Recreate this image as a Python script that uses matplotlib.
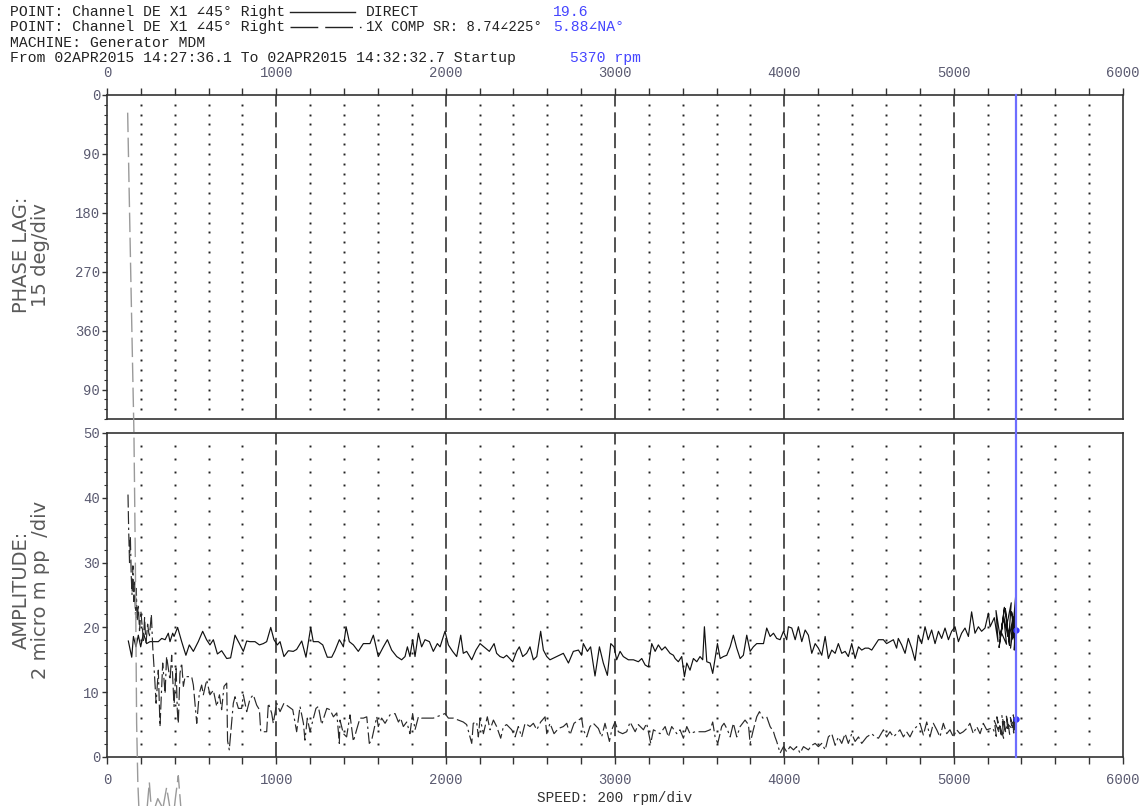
import numpy as np
import matplotlib.pyplot as plt
from matplotlib.lines import Line2D
from matplotlib.transforms import blended_transform_factory

# ---------------- data ----------------
# DIRECT amplitude (micro m pp) vs speed (rpm)
direct_rpm = [126, 146, 156, 171, 185, 199, 215, 234, 254, 274, 303, 323, 343, 362, 372,
              388, 396, 417, 441, 466, 486, 510, 539, 565, 588, 608, 628, 652, 677, 707,
              730, 756, 782, 805, 825, 844, 874, 900, 923, 943, 967, 986, 1006, 1022, 1045,
              1071, 1100, 1120, 1150, 1175, 1203, 1218, 1248, 1274, 1301, 1327, 1346, 1372, 1386, 1396,
              1412, 1431, 1455, 1484, 1514, 1553, 1573, 1602, 1632, 1656, 1681, 1711, 1740, 1760, 1774,
              1789, 1805, 1819, 1839, 1858, 1878, 1904, 1927, 1951, 1967, 1996, 2016, 2041, 2065, 2089,
              2104, 2124, 2154, 2179, 2203, 2226, 2258, 2286, 2301, 2321, 2341, 2360, 2396, 2419, 2435,
              2455, 2478, 2498, 2518, 2538, 2561, 2577, 2597, 2616, 2656, 2695, 2725, 2754, 2784, 2803,
              2813, 2837, 2856, 2882, 2908, 2931, 2955, 2975, 2994, 3010, 3030, 3049, 3079, 3109, 3138,
              3158, 3178, 3197, 3217, 3237, 3256, 3276, 3296, 3325, 3345, 3355, 3374, 3394, 3410, 3424,
              3443, 3463, 3483, 3502, 3518, 3528, 3542, 3562, 3577, 3591, 3605, 3621, 3640, 3660, 3680,
              3699, 3719, 3739, 3758, 3778, 3798, 3817, 3837, 3857, 3877, 3896, 3916, 3936, 3955, 3975,
              3995, 4014, 4024, 4044, 4064, 4083, 4103, 4123, 4142, 4162, 4182, 4201, 4221, 4241, 4260,
              4280, 4300, 4319, 4339, 4359, 4378, 4398, 4418, 4438, 4457, 4477, 4497, 4516, 4536, 4556,
              4585, 4604, 4624, 4644, 4663, 4673, 4693, 4713, 4732, 4752, 4772, 4791, 4811, 4831, 4850,
              4870, 4890, 4910, 4929, 4949, 4969, 4988, 5008, 5028, 5047, 5067, 5087, 5106, 5126, 5146,
              5165, 5185, 5205, 5215, 5240, 5262, 5250, 5275, 5290, 5268, 5300, 5282, 5312, 5295, 5320,
              5305, 5330, 5315, 5340, 5325, 5348, 5336, 5355, 5342, 5360, 5350, 5364, 5345, 5366, 5358,
              5368, 5352, 5370, 5362, 5370]
direct_amp = [17.9, 15.4, 18.6, 17.0, 18.8, 17.0, 19.1, 17.5, 17.8, 17.8, 17.8, 18.3, 18.1, 19.1, 17.8,
              19.1, 18.6, 20.0, 17.8, 15.7, 17.3, 16.3, 17.8, 19.4, 18.1, 17.3, 18.1, 15.9, 16.4, 15.2,
              15.3, 18.8, 17.5, 16.3, 17.9, 17.8, 17.8, 17.3, 17.5, 17.8, 20.0, 18.1, 17.3, 17.8, 15.5,
              16.4, 16.3, 16.6, 17.9, 15.4, 20.0, 17.8, 17.8, 17.3, 15.4, 15.4, 16.4, 18.1, 17.5, 17.0,
              20.1, 17.8, 17.3, 16.3, 17.5, 17.5, 18.8, 15.5, 17.0, 18.1, 16.5, 15.5, 15.0, 15.5, 17.0,
              15.5, 18.1, 15.5, 19.1, 17.0, 18.1, 17.8, 16.3, 17.5, 17.0, 19.4, 17.3, 16.3, 15.5, 18.8,
              16.0, 16.3, 15.0, 16.5, 17.5, 17.0, 16.3, 17.5, 16.0, 15.5, 15.3, 15.7, 14.7, 16.3, 17.0,
              15.5, 16.0, 17.0, 15.0, 15.5, 19.4, 16.5, 15.5, 15.0, 15.5, 16.0, 14.5, 16.3, 16.5, 15.7,
              17.5, 16.3, 17.0, 12.5, 17.0, 14.5, 12.6, 17.5, 17.0, 15.0, 16.3, 15.5, 15.0, 15.0, 14.7,
              15.2, 14.2, 13.9, 17.5, 16.3, 17.3, 16.5, 17.0, 16.0, 15.7, 15.2, 14.7, 15.5, 12.4, 14.5,
              13.4, 15.2, 14.7, 15.5, 15.0, 20.1, 14.7, 14.5, 12.9, 15.2, 17.5, 15.2, 15.5, 15.7, 17.0,
              18.8, 16.8, 15.2, 15.7, 18.8, 16.3, 17.0, 17.5, 17.5, 17.5, 19.9, 18.6, 19.1, 18.3, 18.1,
              19.4, 18.1, 20.1, 19.9, 18.1, 20.1, 17.8, 19.6, 18.8, 16.0, 17.5, 16.8, 15.7, 18.6, 15.2,
              16.5, 16.0, 17.5, 16.0, 16.3, 15.5, 17.5, 15.2, 17.0, 16.5, 16.8, 16.8, 16.5, 17.3, 18.1,
              18.1, 17.5, 17.8, 18.1, 16.8, 18.3, 17.3, 16.0, 18.3, 16.8, 14.9, 18.8, 17.5, 20.1, 18.1,
              19.6, 17.5, 19.4, 18.3, 19.9, 18.1, 19.4, 20.1, 17.8, 19.1, 19.9, 18.6, 22.4, 19.1, 20.1,
              19.4, 19.9, 22.2, 20.1, 21.5, 17.8, 22.6, 18.4, 21.0, 16.9, 23.1, 19.2, 17.4, 21.8, 18.6,
              22.9, 17.2, 20.5, 23.8, 18.1, 21.2, 16.8, 20.7, 22.4, 17.9, 21.6, 19.0, 18.2, 24.8, 16.5,
              21.0, 20.1, 17.0, 22.0, 19.6]

# 1X COMP amplitude (micro m pp) vs speed (rpm)
comp_rpm = [124, 128, 133, 138, 143, 148, 153, 158, 163, 168, 173, 178, 185, 192, 200,
            208, 215, 222, 230, 240, 250, 262, 270, 280, 290, 303, 313, 329, 343, 352,
            372, 382, 396, 408, 415, 421, 431, 441, 451, 461, 500, 510, 530, 545, 559,
            569, 589, 608, 628, 648, 664, 677, 691, 707, 712, 722, 735, 746, 756, 776,
            795, 805, 825, 845, 864, 884, 900, 908, 923, 943, 953, 972, 982, 1002, 1022,
            1045, 1071, 1097, 1120, 1140, 1160, 1169, 1183, 1199, 1219, 1234, 1248, 1268, 1282, 1298,
            1317, 1337, 1357, 1372, 1376, 1396, 1415, 1435, 1455, 1474, 1494, 1514, 1534, 1549, 1563,
            1593, 1602, 1622, 1642, 1671, 1701, 1721, 1734, 1750, 1770, 1789, 1805, 1819, 1839, 1858,
            1888, 1927, 1996, 2016, 2045, 2075, 2104, 2124, 2154, 2163, 2183, 2193, 2203, 2223, 2246,
            2262, 2282, 2301, 2325, 2341, 2360, 2390, 2410, 2429, 2449, 2469, 2498, 2518, 2538, 2561,
            2587, 2597, 2616, 2640, 2666, 2695, 2715, 2734, 2758, 2784, 2803, 2813, 2833, 2852, 2872,
            2902, 2921, 2941, 2967, 2981, 3000, 3020, 3045, 3069, 3089, 3119, 3138, 3168, 3187, 3211,
            3227, 3247, 3266, 3296, 3315, 3335, 3365, 3384, 3404, 3424, 3443, 3473, 3502, 3532, 3562,
            3577, 3591, 3607, 3630, 3644, 3664, 3680, 3699, 3719, 3739, 3768, 3788, 3798, 3817, 3837,
            3853, 3873, 3896, 3916, 3936, 3945, 3955, 3975, 3995, 4014, 4034, 4054, 4073, 4093, 4113,
            4142, 4162, 4182, 4201, 4221, 4241, 4260, 4280, 4300, 4319, 4339, 4359, 4378, 4398, 4418,
            4438, 4457, 4487, 4516, 4536, 4556, 4585, 4604, 4624, 4644, 4663, 4683, 4703, 4722, 4742,
            4762, 4782, 4801, 4821, 4841, 4860, 4880, 4900, 4919, 4939, 4959, 4978, 4998, 5018, 5037,
            5057, 5077, 5096, 5116, 5136, 5156, 5175, 5195, 5230, 5252, 5240, 5268, 5255, 5282, 5270,
            5295, 5285, 5308, 5298, 5320, 5310, 5332, 5322, 5345, 5335, 5355, 5348, 5362, 5352, 5366,
            5358, 5370, 5362, 5370]
comp_amp = [40.5, 35.0, 30.0, 34.0, 28.0, 25.0, 29.5, 24.0, 27.0, 22.0, 26.0, 21.0, 23.5, 19.5, 22.5,
            20.0, 18.0, 21.5, 17.5, 20.5, 18.5, 22.0, 17.0, 12.9, 8.3, 13.4, 4.7, 14.5, 9.8, 15.5,
            11.9, 15.7, 7.8, 14.0, 7.3, 5.2, 12.9, 14.5, 10.9, 12.4, 12.4, 11.1, 5.2, 9.8, 11.1,
            9.6, 11.9, 9.6, 10.3, 7.8, 9.6, 7.3, 10.9, 11.4, 2.5, 1.1, 5.0, 8.3, 9.3, 7.5,
            7.5, 9.6, 7.0, 9.0, 9.6, 8.0, 7.3, 3.9, 3.9, 3.9, 8.3, 6.8, 5.2, 8.3, 7.0,
            8.3, 7.8, 7.3, 3.9, 7.8, 5.2, 2.6, 6.0, 3.9, 6.0, 7.5, 7.8, 5.0, 6.2, 7.5,
            7.3, 6.2, 6.8, 2.1, 5.7, 3.6, 3.1, 6.5, 2.4, 4.2, 6.0, 6.0, 6.2, 2.1, 2.6,
            6.2, 4.7, 6.0, 5.2, 6.5, 6.7, 5.4, 6.0, 4.7, 5.4, 3.6, 6.7, 4.2, 6.2, 6.0,
            6.0, 6.0, 6.7, 6.0, 6.0, 5.7, 5.4, 5.0, 2.1, 5.2, 5.4, 3.1, 6.0, 3.6, 6.2,
            4.2, 5.7, 4.7, 2.9, 4.7, 5.0, 4.2, 3.1, 4.7, 3.1, 5.2, 4.7, 5.2, 4.2, 5.4,
            6.2, 3.6, 5.2, 3.6, 4.4, 4.7, 5.2, 3.4, 5.2, 5.7, 6.0, 4.2, 3.1, 4.7, 5.2,
            4.4, 3.1, 5.2, 2.4, 4.2, 5.4, 3.9, 3.6, 3.9, 5.4, 3.9, 5.0, 4.2, 5.2, 2.1,
            4.2, 3.9, 3.6, 4.7, 3.1, 4.7, 3.6, 4.2, 2.9, 4.7, 3.6, 3.9, 3.9, 3.9, 4.2,
            5.4, 3.1, 2.1, 4.7, 5.2, 4.2, 3.1, 5.2, 3.1, 4.7, 5.7, 5.0, 2.1, 4.2, 6.2,
            7.0, 6.0, 6.2, 4.7, 3.9, 3.1, 2.4, 0.6, 1.6, 0.8, 1.6, 1.1, 1.6, 0.6, 1.6,
            1.1, 1.8, 2.1, 1.6, 2.1, 1.1, 3.1, 3.6, 1.8, 3.1, 2.1, 3.6, 2.1, 3.6, 2.4,
            3.1, 2.1, 3.1, 3.6, 3.1, 2.9, 4.2, 3.1, 3.9, 3.1, 3.6, 4.2, 3.1, 3.9, 3.1,
            4.2, 4.7, 5.2, 3.4, 5.4, 3.1, 5.2, 4.2, 3.1, 5.2, 3.6, 4.2, 3.1, 4.2, 3.6,
            3.9, 4.4, 5.2, 3.6, 4.7, 3.6, 5.2, 4.2, 4.5, 3.2, 5.6, 3.8, 6.2, 3.4, 5.1,
            2.9, 6.4, 3.6, 5.5, 4.1, 6.6, 3.3, 5.0, 4.4, 6.1, 3.7, 5.7, 4.2, 6.5, 3.9,
            5.3, 4.6, 6.0, 5.88]

# 1X COMP phase lag (deg, not wrapped) vs speed (rpm)
phase_rpm = [122, 130, 140, 150, 159, 167, 175, 182, 190, 205, 230, 250, 258, 275, 300,
             330, 352, 372, 395, 405, 421, 435, 450, 500]
phase_deg = [27, 135, 270, 400, 515, 700, 960, 1050, 1100, 1130, 1110, 1050, 1078, 1095, 1075,
             1090, 1058, 1090, 1095, 1072, 1040, 1085, 1120, 1150]

cursor_rpm = 5370
cursor_direct = 19.6
cursor_comp = 5.88

phase_ticks = [0, 90, 180, 270, 360, 450]
phase_labels = ["0", "90", "180", "270", "360", "90"]

header_lines = [
    "POINT: Channel DE X1 \u222045\u00b0 Right",
    "POINT: Channel DE X1 \u222045\u00b0 Right",
    "MACHINE: Generator MDM",
    "From 02APR2015 14:27:36.1 To 02APR2015 14:32:32.7 Startup",
]

# ---------------- figure layout (pixel based) ----------------
W, H = 1147, 806
fig = plt.figure(figsize=(W / 100, H / 100), dpi=100)


def fx(px):
    return px / W


def fy(py):
    return 1 - py / H


mono = ["Liberation Mono", "DejaVu Sans Mono", "DejaVu Sans"]
tick_col = "#5a5a70"
ink = "#222222"
blue = "#4545ff"
spine_col = "#333333"

ax1 = fig.add_axes([fx(107), fy(419), fx(1123) - fx(107), fy(95) - fy(419)])
ax2 = fig.add_axes([fx(107), fy(757), fx(1123) - fx(107), fy(433) - fy(757)])
# phase trace runs off its panel, so keep the top panel above the bottom one
ax1.set_zorder(3)
ax2.set_zorder(2)

for ax in (ax1, ax2):
    ax.set_xlim(0, 6000)
    for s in ax.spines.values():
        s.set_color(spine_col)
        s.set_linewidth(1.2)
    ax.set_xticks(np.arange(0, 6001, 1000))
    ax.set_xticks(np.arange(0, 6001, 200), minor=True)
    ax.tick_params(axis="x", which="both", length=5, width=1, color=spine_col,
                   direction="out", labelsize=10, labelcolor=tick_col)
    ax.tick_params(axis="y", which="major", length=3.5, width=1, color=spine_col,
                   direction="out", pad=1.5, labelsize=10, labelcolor=tick_col)
    ax.tick_params(axis="y", which="minor", length=2, width=0.8, color=spine_col,
                   direction="out")

# top panel: phase
ax1.set_ylim(495, 0)
ax1.xaxis.tick_top()
ax1.tick_params(axis="x", which="major", pad=6)
ax1.set_yticks(phase_ticks)
ax1.set_yticklabels(phase_labels, family=mono)
ax1.set_yticks(np.arange(0, 496, 15), minor=True)
ax1.set_xticklabels([str(v) for v in range(0, 6001, 1000)], family=mono)

# bottom panel: amplitude
ax2.set_ylim(0, 50)
ax2.tick_params(axis="x", which="major", pad=6.5)
ax2.set_yticks(np.arange(0, 51, 10))
ax2.set_yticklabels([str(v) for v in range(0, 51, 10)], family=mono)
ax2.set_yticks(np.arange(0, 51, 2), minor=True)
ax2.set_xticklabels([str(v) for v in range(0, 6001, 1000)], family=mono)

# grids: dashed at every 1000 rpm, dots at the minor lattice
grid_x = [v for v in range(200, 6000, 200) if v % 1000]
for ax, ystep, ymax in ((ax1, 15, 495), (ax2, 2, 50)):
    for v in range(1000, 6000, 1000):
        ax.axvline(v, color="#333333", lw=1.2, dashes=(9, 3.5), zorder=1)
    gy = np.arange(ystep, ymax, ystep)
    GX, GY = np.meshgrid(grid_x, gy)
    ax.plot(GX.ravel(), GY.ravel(), ls="none", marker="s", ms=1.4, mew=0,
            color="#222222", zorder=1)

dash_1x = (0, (11, 3, 11, 3, 2, 3))

# phase trace (unwrapped, runs off the panel as in the original)
ax1.plot(phase_rpm, phase_deg, color="#9a9a9a", lw=1.0, ls=(0, (14, 4)),
         clip_on=False, zorder=3)

# amplitude traces
ax2.plot(direct_rpm, direct_amp, color="#111111", lw=0.85, zorder=4)
ax2.plot(comp_rpm, comp_amp, color="#2a2a2a", lw=0.85, ls=dash_1x, zorder=4)

# cursor line at 5370 rpm through both panels
tr = blended_transform_factory(ax2.transData, fig.transFigure)
fig.add_artist(Line2D([cursor_rpm, cursor_rpm], [fy(757), fy(95)], transform=tr,
                      color="#6e6eff", lw=1.6, zorder=10))
ax2.plot([cursor_rpm, cursor_rpm], [cursor_direct, cursor_comp], ls="none",
         marker="o", ms=3.5, color="#3333ff", zorder=7, clip_on=False)

# axis labels
fig.text(fx(31), fy(255), "PHASE LAG:\n15 deg/div", rotation=90, ha="center",
         va="center", ma="center", fontsize=14, color="#5a5a5a", linespacing=1.0,
         family="DejaVu Sans")
fig.text(fx(31), fy(590), "AMPLITUDE:\n2 micro m pp  /div", rotation=90, ha="center",
         va="center", ma="center", fontsize=14, color="#5a5a5a", linespacing=1.0,
         family="DejaVu Sans")
fig.text(fx(615), fy(798), "SPEED: 200 rpm/div", ha="center", va="center",
         fontsize=10.4, color="#333333", family=mono)

# header
hy = [12, 27, 43, 58]
for line, y in zip(header_lines, hy):
    fig.text(fx(10), fy(y), line, ha="left", va="center", fontsize=10.6,
             color=ink, family=mono)
fig.add_artist(Line2D([fx(290), fx(355)], [fy(hy[0]), fy(hy[0])], color=ink, lw=1.0))
fig.add_artist(Line2D([fx(290), fx(361)], [fy(hy[1]), fy(hy[1])], color=ink, lw=1.0,
                      ls=(0, (20, 5, 20, 5, 2.5, 5))))
fig.text(fx(366), fy(hy[0]), "DIRECT", ha="left", va="center", fontsize=10.6,
         color=ink, family=mono)
fig.text(fx(366), fy(hy[1]), "1X COMP SR: 8.74\u2220225\u00b0", ha="left", va="center",
         fontsize=10.0, color=ink, family=mono)
fig.text(fx(553), fy(hy[0]), f"{cursor_direct}", ha="left", va="center",
         fontsize=10.6, color=blue, family=mono)
fig.text(fx(553), fy(hy[1]), f"{cursor_comp}\u2220NA\u00b0", ha="left", va="center",
         fontsize=10.6, color=blue, family=mono)
fig.text(fx(570), fy(hy[3]), f"{cursor_rpm} rpm", ha="left", va="center",
         fontsize=10.6, color=blue, family=mono)

fig.savefig("out.png", dpi=100, facecolor="white")
